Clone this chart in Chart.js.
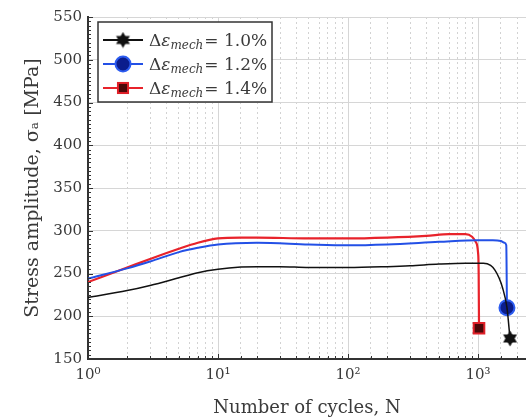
<!DOCTYPE html>
<html lang="en">
<head>
<meta charset="UTF-8">
<title>Stress amplitude vs number of cycles</title>
<script src="https://cdn.jsdelivr.net/npm/chart.js"></script>
<style>
  html, body { margin: 0; padding: 0; background: #fff; overflow: hidden; }
</style>
</head>
<body>
<canvas id="chart" width="526" height="420"></canvas>
<script>
  // cycles N and stress amplitude (MPa)
  const cycles10 = [1, 2, 3, 5, 7, 10, 15, 20, 30, 50, 100, 200, 300, 500, 800, 1100, 1250, 1350, 1450, 1540, 1670, 1763];
  const stress10 = [222, 230, 236, 245, 251, 255, 257.5, 258, 258, 257, 257, 258, 259, 261, 262, 262, 259.5, 254, 245, 234, 210, 174];

  const cycles12 = [1, 2, 3, 5, 7, 10, 20, 50, 100, 200, 500, 1000, 1300, 1500, 1600, 1650, 1670];
  const stress12 = [244, 256, 264, 275, 280, 284, 286, 284, 283, 284, 287, 289, 289, 288, 286, 283, 210];

  const cycles14 = [1, 2, 3, 5, 7, 10, 15, 20, 50, 100, 200, 400, 600, 800, 900, 960, 1000, 1012, 1018];
  const stress14 = [240, 257, 267, 279, 286, 291, 292, 292, 291, 291, 292, 294, 296, 296, 293, 287, 275, 250, 186];

  const strainLabels = ['1.0%', '1.2%', '1.4%'];
  const xMin = 1, xMax = 2340;
  const yMin = 150, yMax = 550, yStep = 50;

  const sup = ['⁰', '¹', '²', '³', '⁴'];
  const isDecade = v => Math.abs(Math.log10(v) - Math.round(Math.log10(v))) < 1e-9;

  // filled six-pointed star used as the end marker of the 1.0% curve
  function makeStar(size, color) {
    const c = document.createElement('canvas');
    c.width = size; c.height = size;
    const g = c.getContext('2d');
    const r = size / 2 - 0.5, cx = size / 2, cy = size / 2;
    g.fillStyle = color;
    for (let t = 0; t < 2; t++) {
      g.beginPath();
      for (let k = 0; k < 3; k++) {
        const a = -Math.PI / 2 + t * Math.PI / 3 + k * 2 * Math.PI / 3;
        const px = cx + r * Math.cos(a), py = cy + r * Math.sin(a);
        k ? g.lineTo(px, py) : g.moveTo(px, py);
      }
      g.closePath();
      g.fill();
    }
    return c;
  }
  const star = makeStar(17, '#111');

  const serif = '"DejaVu Serif", "Liberation Serif", serif';
  const textColor = '#3a3a3a';

  function drawMarker(ctx, m, x, y) {
    ctx.save();
    if (m.pointStyle === 'circle') {
      ctx.beginPath();
      ctx.arc(x, y, m.r, 0, Math.PI * 2);
      ctx.fillStyle = m.fill;
      ctx.fill();
      ctx.lineWidth = 2;
      ctx.strokeStyle = m.border;
      ctx.stroke();
    } else if (m.pointStyle === 'rect') {
      const s = m.r * Math.SQRT2 * 0.95;
      ctx.fillStyle = m.fill;
      ctx.fillRect(x - s / 2, y - s / 2, s, s);
      ctx.lineWidth = 2;
      ctx.strokeStyle = m.border;
      ctx.strokeRect(x - s / 2, y - s / 2, s, s);
    } else {
      ctx.drawImage(star, x - star.width / 2, y - star.height / 2);
    }
    ctx.restore();
  }

  // legend with the subscripted strain symbol
  const legendBox = {
    id: 'legendBox',
    afterDraw(chart) {
      const { ctx, chartArea } = chart;
      const x0 = chartArea.left + 10, y0 = chartArea.top + 5, w = 174, h = 80;
      ctx.save();
      ctx.fillStyle = '#fff';
      ctx.fillRect(x0, y0, w, h);
      ctx.strokeStyle = '#333';
      ctx.lineWidth = 1.5;
      ctx.strokeRect(x0, y0, w, h);
      chart.data.datasets.forEach((ds, i) => {
        const cy = y0 + 18 + i * 24;
        ctx.strokeStyle = ds.borderColor;
        ctx.lineWidth = 2;
        ctx.beginPath();
        ctx.moveTo(x0 + 5, cy);
        ctx.lineTo(x0 + 45, cy);
        ctx.stroke();
        drawMarker(ctx, ds.legendMarker, x0 + 25, cy);
        ctx.fillStyle = textColor;
        ctx.textBaseline = 'alphabetic';
        let tx = x0 + 51;
        const base = cy + 6;
        ctx.font = '17px ' + serif;
        ctx.fillText('Δ', tx, base); tx += ctx.measureText('Δ').width;
        ctx.font = 'italic 17px ' + serif;
        ctx.fillText('ε', tx, base); tx += ctx.measureText('ε').width;
        ctx.font = 'italic 12px ' + serif;
        ctx.fillText('mech', tx, base + 3); tx += ctx.measureText('mech').width + 1;
        ctx.font = '17px ' + serif;
        ctx.fillText('= ' + strainLabels[i], tx, base);
      });
      ctx.restore();
    }
  };

  // small inward tick marks on the bottom and left axes
  const inwardTicks = {
    id: 'inwardTicks',
    afterDraw(chart) {
      const { ctx, chartArea, scales } = chart;
      ctx.save();
      ctx.strokeStyle = '#333';
      ctx.lineWidth = 1;
      ctx.beginPath();
      scales.x.ticks.forEach(t => {
        if (t.value >= xMax) return;
        const px = Math.round(scales.x.getPixelForValue(t.value)) + 0.5;
        const len = isDecade(t.value) ? 5 : 3;
        ctx.moveTo(px, chartArea.bottom);
        ctx.lineTo(px, chartArea.bottom - len);
      });
      for (let v = yMin; v <= yMax; v += 5) {
        const py = Math.round(scales.y.getPixelForValue(v)) + 0.5;
        const len = v % yStep === 0 ? 5 : 3;
        ctx.moveTo(chartArea.left, py);
        ctx.lineTo(chartArea.left + len, py);
      }
      ctx.stroke();
      ctx.restore();
    }
  };

  const endOnly = (n, r) => c => (c.dataIndex === n - 1 ? r : 0);

  function series(label, xs, ys, color, style, r, fill, border, width) {
    const radius = endOnly(xs.length, r);
    return {
      label: label,
      data: xs.map((x, i) => ({ x: x, y: ys[i] })),
      borderColor: color,
      borderWidth: width,
      pointStyle: style,
      pointRadius: radius,
      pointHoverRadius: radius,
      pointBackgroundColor: fill,
      pointBorderColor: border,
      pointBorderWidth: 2,
      cubicInterpolationMode: 'monotone',
      legendMarker: { pointStyle: style, r: r, fill: fill, border: border }
    };
  }

  new Chart(document.getElementById('chart'), {
    type: 'line',
    data: {
      datasets: [
        series('Δε_mech = ' + strainLabels[0], cycles10, stress10, '#111111', star, 8, '#111', '#111', 1.5),
        series('Δε_mech = ' + strainLabels[1], cycles12, stress12, '#2350e6', 'circle', 7.5, '#0b1d8c', '#2c5cf0', 2),
        series('Δε_mech = ' + strainLabels[2], cycles14, stress14, '#e8232b', 'rect', 7.5, '#4a0808', '#e02028', 2.2)
      ]
    },
    options: {
      responsive: false,
      animation: false,
      layout: { autoPadding: false, padding: { top: 17, left: 0, right: 0, bottom: 0 } },
      plugins: { legend: { display: false }, tooltip: { enabled: false } },
      scales: {
        x: {
          type: 'logarithmic',
          min: xMin,
          max: xMax,
          border: { display: true, color: '#333', width: 2, dash: [2, 3] },
          grid: {
            drawTicks: false,
            lineWidth: 1,
            color: c => (c.tick && !isDecade(c.tick.value) && c.tick.value < xMax ? '#d2d2d2' : 'rgba(0,0,0,0)')
          },
          ticks: {
            autoSkip: false,
            maxRotation: 0,
            padding: 7,
            color: textColor,
            font: { family: serif, size: 15 },
            callback: v => (isDecade(v) ? '10' + sup[Math.round(Math.log10(v))] : '')
          },
          title: {
            display: true,
            text: 'Number of cycles, N',
            color: textColor,
            font: { family: serif, size: 18 },
            padding: { top: 0, bottom: 1 }
          },
          afterFit: s => { s.height = 61; s.paddingRight = 0; s.paddingLeft = 0; }
        },
        xMajor: {
          type: 'logarithmic',
          position: 'top',
          min: xMin,
          max: xMax,
          border: { display: false },
          grid: {
            drawTicks: false,
            lineWidth: 1,
            color: c => (c.tick && isDecade(c.tick.value) ? '#d6d6d6' : 'rgba(0,0,0,0)')
          },
          ticks: { display: false, autoSkip: false },
          afterFit: s => { s.height = 0; s.paddingRight = 0; s.paddingLeft = 0; }
        },
        y: {
          min: yMin,
          max: yMax,
          border: { display: true, color: '#333', width: 2 },
          grid: { drawTicks: false, color: '#d6d6d6', lineWidth: 1 },
          ticks: {
            stepSize: yStep,
            padding: 6,
            color: textColor,
            font: { family: serif, size: 15 }
          },
          title: {
            display: true,
            text: 'Stress amplitude, σₐ [MPa]',
            color: textColor,
            font: { family: serif, size: 19 },
            padding: { top: 22, bottom: 0 }
          },
          afterFit: s => { s.width = 88; }
        }
      }
    },
    plugins: [inwardTicks, legendBox]
  });
</script>
</body>
</html>
